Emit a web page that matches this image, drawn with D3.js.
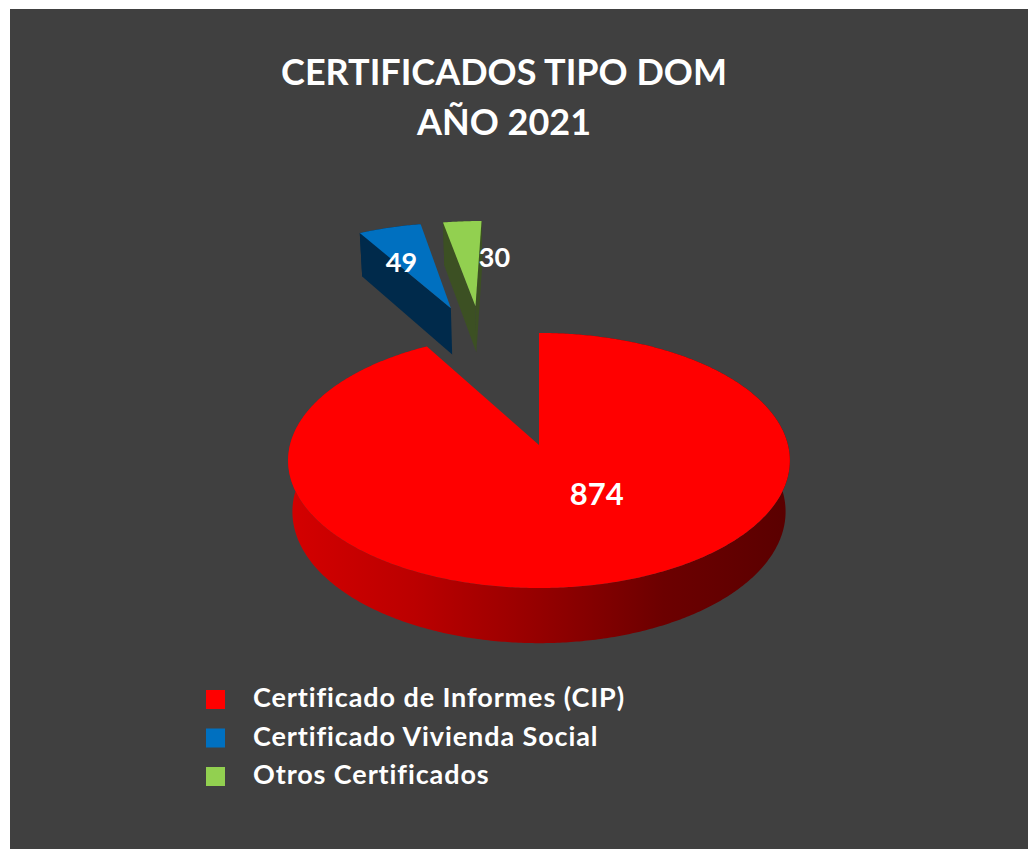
<!DOCTYPE html>
<html>
<head>
<meta charset="utf-8">
<script src="https://cdn.jsdelivr.net/npm/d3@7"></script>
<style>
  html, body { margin: 0; padding: 0; background: #fff; }
  svg { display: block; }
</style>
</head>
<body>
<svg id="chart" width="1028" height="849"></svg>
<script>
// datos del grafico
var categories = ["Certificado de Informes (CIP)", "Certificado Vivienda Social", "Otros Certificados"];
var values = [874, 49, 30];
var titleLines = ["CERTIFICADOS TIPO DOM", "AÑO 2021"];

// colores
var topColors = ["#FF0000", "#0070C0", "#92D050"];
var faceColors = ["#6a0000", "#002A4B", "#3C5023"];

// separacion de las porciones (en radios) y direccion en grados
var explode = [0, 1.32, 1.31];
var explodeDir = [0, 342, 347];
// donde va la etiqueta: [radio, angulo]
var labelPos = [[0.43, 149], [0.58, 333], [0.55, 8]];

var svg = d3.select("#chart");
var W = 1028, H = 849;
var font = "Lato, 'Open Sans', sans-serif";

svg.append("rect")
    .attr("x", 10).attr("y", 9)
    .attr("width", W - 10).attr("height", H - 9)
    .attr("fill", "#404040");

// camara
var view = {cx: 539, cy: 445, f: 1768, D: 7.1, tilt: 30.3 * Math.PI / 180, h: 0.241};
function project(X, Y, Z) {
    var s = Math.sin(view.tilt), c = Math.cos(view.tilt);
    var yv = Y * c + Z * s, zv = Z * c - Y * s;
    var k = view.f / (view.D + zv);
    return [view.cx + X * k, view.cy - yv * k];
}

var pie = d3.pie().sort(null).startAngle(0).endAngle(2 * Math.PI);
var arcs = pie(values);
var line = d3.line();

function area(p) {
    var a = 0;
    for (var i = 0; i < p.length; i++) {
        var q = p[(i + 1) % p.length];
        a += p[i][0] * q[1] - q[0] * p[i][1];
    }
    return a;
}

// gradiente del costado rojo
var defs = svg.append("defs");
var grad = defs.append("linearGradient")
    .attr("id", "sideRed")
    .attr("gradientUnits", "userSpaceOnUse")
    .attr("x1", project(-1, 0, 0)[0]).attr("x2", project(1, 0, 0)[0])
    .attr("y1", 0).attr("y2", 0);
[[0, "#d40000"], [0.25, "#bb0000"], [0.5, "#950000"], [0.75, "#6c0000"], [1, "#5a0000"]].forEach(function (s) {
    grad.append("stop").attr("offset", s[0]).attr("stop-color", s[1]);
});

var pieG = svg.append("g");
var order = [2, 1, 0];

order.forEach(function (i) {
    var d = arcs[i];
    var dir = explodeDir[i] * Math.PI / 180;
    var ox = explode[i] * Math.sin(dir), oz = explode[i] * Math.cos(dir);
    function pt(a, r, Y) {
        return project(ox + r * Math.sin(a), Y, oz + r * Math.cos(a));
    }
    var n = Math.max(8, Math.ceil((d.endAngle - d.startAngle) / 0.01));
    var angs = d3.range(n + 1).map(function (j) {
        return d.startAngle + (d.endAngle - d.startAngle) * j / n;
    });
    var g = pieG.append("g");

    // costado exterior
    var topArc = angs.map(function (a) { return pt(a, 1, 0); });
    var botArc = angs.map(function (a) { return pt(a, 1, -view.h); }).reverse();
    g.append("path")
        .attr("d", line(topArc.concat(botArc)) + "Z")
        .attr("fill", i === 0 ? "url(#sideRed)" : faceColors[i]);

    // caras de corte
    var a0 = d.startAngle, a1 = d.endAngle;
    var f0 = [pt(a0, 0, 0), pt(a0, 1, 0), pt(a0, 1, -view.h), pt(a0, 0, -view.h)];
    var f1 = [pt(a1, 1, 0), pt(a1, 0, 0), pt(a1, 0, -view.h), pt(a1, 1, -view.h)];
    [f0, f1].forEach(function (f) {
        if (area(f) < 0) {
            g.append("path").attr("d", line(f) + "Z").attr("fill", faceColors[i]);
        }
    });

    // tapa
    g.append("path")
        .attr("d", line([pt(0, 0, 0)].concat(topArc)) + "Z")
        .attr("fill", topColors[i]);
});

// etiquetas
arcs.forEach(function (d, i) {
    var dir = explodeDir[i] * Math.PI / 180;
    var ox = explode[i] * Math.sin(dir), oz = explode[i] * Math.cos(dir);
    var la = labelPos[i][1] * Math.PI / 180, lr = labelPos[i][0];
    var p = project(ox + lr * Math.sin(la), 0, oz + lr * Math.cos(la));
    svg.append("text")
        .attr("x", p[0]).attr("y", p[1])
        .attr("dy", "0.36em")
        .attr("text-anchor", "middle")
        .style("font-family", font)
        .style("font-weight", "bold")
        .style("font-size", i === 0 ? "31px" : "27px")
        .style("fill", "white")
        .text(d.data);
});

// titulo
titleLines.forEach(function (t, i) {
    svg.append("text")
        .attr("x", 504).attr("y", 85 + i * 50)
        .attr("text-anchor", "middle")
        .style("font-family", font)
        .style("font-weight", "bold")
        .style("font-size", "36px")
        .style("fill", "white")
        .text(t);
});

// leyenda
var legend = svg.append("g").attr("transform", "translate(206, 690)");
categories.forEach(function (c, i) {
    var row = legend.append("g").attr("transform", "translate(0," + (i * 38.5) + ")");
    row.append("rect")
        .attr("width", 19).attr("height", 19)
        .attr("fill", topColors[i]);
    row.append("text")
        .attr("x", 47).attr("y", 17)
        .style("font-family", font)
        .style("font-weight", "bold")
        .style("font-size", "27px")
        .style("letter-spacing", "0.9px")
        .style("fill", "white")
        .text(c);
});
</script>
</body>
</html>
